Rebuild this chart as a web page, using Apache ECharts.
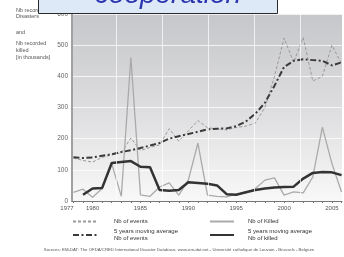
<!DOCTYPE html>
<html>
<head>
<meta charset="utf-8">
<title>Disasters</title>
<script src="https://cdn.jsdelivr.net/npm/echarts@6/dist/echarts.min.js"></script>
<style>
html,body{margin:0;padding:0;background:#fff}
#chart{width:344px;height:257px}
</style>
</head>
<body>
<div id="chart"></div>
<script>
// values, 1978..2006
var years = [1978,1979,1980,1981,1982,1983,1984,1985,1986,1987,1988,1989,1990,1991,1992,
             1993,1994,1995,1996,1997,1998,1999,2000,2001,2002,2003,2004,2005,2006];
var events = [138,130,125,140,148,155,202,162,172,180,232,192,225,258,235,
              232,228,236,240,250,300,400,523,445,525,385,400,500,440];
var eventsAvg = [140,138,140,145,150,157,163,170,178,186,200,208,215,222,230,
                 232,233,240,255,280,315,370,430,450,455,452,450,435,445];
var killed = [28,38,12,40,120,15,460,20,15,45,58,19,67,186,19,
              15,13,22,26,40,67,74,19,29,26,77,237,120,29];
var killedAvg = [null,20,40,42,122,125,128,110,108,35,33,35,60,58,55,
                 50,22,20,28,35,40,43,45,46,72,90,93,92,83];
var xTicks = [1977,1980,1985,1990,1995,2000,2005];
var vGrid = [1982.5,1987.3,1992.1,1996.9,2001.7];

var xMin = 1977.85, xMax = 2006.05;

function pairs(vals){
    var out = [];
    for (var i = 0; i < years.length; i++) {
        if (vals[i] != null) out.push([years[i], vals[i]]);
    }
    return out;
}

var nameEv = 'Nb of events';
var nameEvAvg = '5 years moving average\nNb of events';
var nameK = 'Nb of Killed';
var nameKAvg = '5 years moving average\nNb of killed';

var myChart = echarts.init(document.getElementById('chart'));

var legendBase = {
    orient: 'vertical',
    top: 218,
    itemWidth: 24,
    itemHeight: 7,
    itemGap: 3,
    padding: 0,
    itemStyle: {opacity: 0},
    textStyle: {fontSize: 6, lineHeight: 7, color: '#333', fontFamily: 'Liberation Sans'}
};

var option = {
    animation: false,
    backgroundColor: '#fff',
    grid: {
        left: 72, right: 2, top: 14, bottom: 56,
        show: true,
        borderWidth: 0,
        backgroundColor: new echarts.graphic.LinearGradient(0, 0, 0, 1, [
            {offset: 0, color: '#c6c7ca'},
            {offset: 0.5, color: '#dddddf'},
            {offset: 1, color: '#f8f8f8'}
        ])
    },
    legend: [
        Object.assign({}, legendBase, {left: 72, data: [nameEv, nameEvAvg],
            textStyle: Object.assign({}, legendBase.textStyle, {padding: [0, 0, 0, 12]})}),
        Object.assign({}, legendBase, {left: 209, data: [nameK, nameKAvg],
            textStyle: Object.assign({}, legendBase.textStyle, {padding: [0, 0, 0, 9]})})
    ],
    xAxis: {
        type: 'value',
        min: xMin,
        max: xMax,
        axisLine: {show: true, lineStyle: {color: '#777', width: 1}},
        axisTick: {show: true, length: 2, customValues: years, lineStyle: {color: '#777'}},
        splitLine: {show: false},
        axisLabel: {
            customValues: xTicks.map(function (v) { return Math.max(v, xMin); }),
            formatter: function (v) {
                return v < xTicks[1] - 1 ? '{first|' + xTicks[0] + '}' : String(v);
            },
            rich: {first: {fontSize: 6, color: '#555', padding: [0, 10, 0, 0], fontFamily: 'Liberation Sans'}},
            fontSize: 6, color: '#555', margin: 4, fontFamily: 'Liberation Sans'
        }
    },
    yAxis: {
        type: 'value',
        min: 0,
        max: 600,
        interval: 100,
        axisLine: {show: true, lineStyle: {color: '#a0a0a0', width: 2}},
        axisTick: {show: false},
        splitLine: {lineStyle: {color: 'rgba(255,255,255,0.75)', width: 1}},
        axisLabel: {fontSize: 6.5, color: '#666', margin: 4, fontFamily: 'Liberation Sans'}
    },
    series: [
        {
            name: nameEv, type: 'line', symbol: 'none',
            data: pairs(events),
            lineStyle: {color: '#999', width: 1, type: [3, 2]},
            itemStyle: {color: '#999'},
            markLine: {
                silent: true, symbol: 'none', label: {show: false},
                lineStyle: {color: 'rgba(255,255,255,0.7)', width: 1, type: 'solid'},
                data: vGrid.map(function (v) { return {xAxis: v}; })
            },
            z: 3
        },
        {
            name: nameEvAvg, type: 'line', symbol: 'none',
            data: pairs(eventsAvg),
            lineStyle: {color: '#3a3a3a', width: 2, type: [6, 2.5, 2, 2.5]},
            itemStyle: {color: '#3a3a3a'},
            z: 4
        },
        {
            name: nameK, type: 'line', symbol: 'none',
            data: pairs(killed),
            lineStyle: {color: '#aaa', width: 1.3},
            itemStyle: {color: '#aaa'},
            z: 3
        },
        {
            name: nameKAvg, type: 'line', symbol: 'none',
            data: pairs(killedAvg),
            lineStyle: {color: '#333', width: 2.5},
            itemStyle: {color: '#333'},
            z: 4
        }
    ],
    graphic: [
        {type: 'text', x: 16, y: 7, z: 10, style: {text: 'Nb recorded\nDisasters', fontSize: 5.5, lineHeight: 6, fill: '#555', fontFamily: 'Liberation Sans'}},
        {type: 'text', x: 16, y: 29, z: 10, style: {text: 'and', fontSize: 5.5, fill: '#555', fontFamily: 'Liberation Sans'}},
        {type: 'text', x: 16, y: 40, z: 10, style: {text: 'Nb recorded\nkilled\n[in thousands]', fontSize: 5.5, lineHeight: 7, fill: '#555', fontFamily: 'Liberation Sans'}},
        {type: 'rect', z: 20, shape: {x: 38.5, y: -5, width: 239, height: 18.5},
            style: {fill: '#dde9f6', stroke: '#2a2a2a', lineWidth: 1}},
        {type: 'text', z: 21, x: 168, y: -5,
            style: {text: 'cooperation', fontSize: 28, fontStyle: 'italic', fill: '#2b35b0',
                fontFamily: 'Liberation Sans', textAlign: 'center', textVerticalAlign: 'middle'}},
        {type: 'text', x: 179, y: 250, z: 10,
            style: {text: 'Sources: EM-DAT: The OFDA/CRED International Disaster Database, www.em-dat.net - Université catholique de Louvain - Brussels - Belgium',
                fontSize: 4.3, fill: '#555', fontFamily: 'Liberation Sans', textAlign: 'center', textVerticalAlign: 'middle'}}
    ]
};
myChart.setOption(option);
</script>
</body>
</html>
